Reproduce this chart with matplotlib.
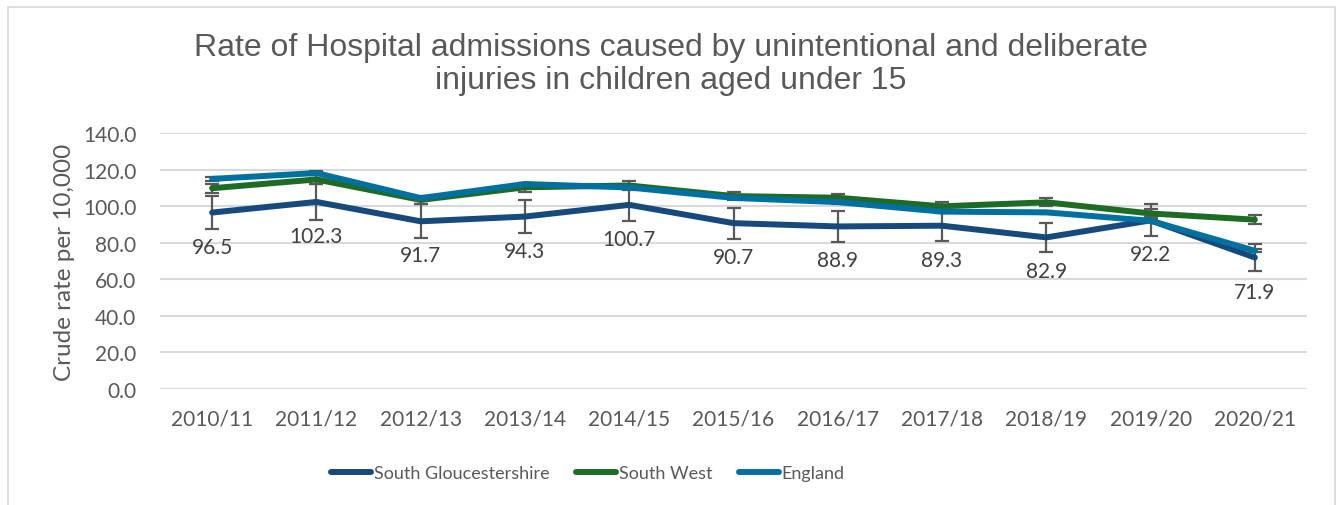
import matplotlib.pyplot as plt
from matplotlib.patches import Rectangle
from matplotlib.lines import Line2D

years = ['2010/11', '2011/12', '2012/13', '2013/14', '2014/15', '2015/16',
         '2016/17', '2017/18', '2018/19', '2019/20', '2020/21']
south_glos = [96.5, 102.3, 91.7, 94.3, 100.7, 90.7, 88.9, 89.3, 82.9, 92.2, 71.9]
south_glos_err = [9.0, 9.8, 9.3, 9.0, 8.8, 8.5, 8.5, 8.3, 8.0, 8.7, 7.3]
south_west = [109.8, 114.6, 103.4, 110.3, 111.3, 105.5, 104.6, 99.9, 102.1, 96.0, 92.6]
south_west_err = [2.4, 2.3, 2.3, 2.3, 2.2, 2.1, 2.1, 2.1, 2.1, 2.2, 2.3]
england = [114.9, 118.1, 104.4, 112.1, 110.2, 104.5, 102.2, 97.0, 96.6, 92.0, 75.6]
england_err = [0.9, 0.9, 0.8, 0.8, 0.8, 0.8, 0.8, 0.8, 0.8, 0.8, 0.8]

c_sg = '#174a7c'
c_sw = '#1e6b24'
c_en = '#0070a0'
txt = '#595959'

plt.rcParams['font.family'] = ['Lato', 'DejaVu Sans']

fig = plt.figure(figsize=(13.37, 5.06), dpi=100)
ax = fig.add_axes([160 / 1337, 1 - 390 / 506, 1147 / 1337, 256 / 506])

x = list(range(len(years)))
lw = 4.3
series = [(south_glos, south_glos_err, c_sg, 'South Gloucestershire'),
          (south_west, south_west_err, c_sw, 'South West'),
          (england, england_err, c_en, 'England')]
for i, (vals, err, col, name) in enumerate(series):
    ax.errorbar(x, vals, yerr=err, color=col, lw=lw, ecolor=txt,
                elinewidth=1.6, capsize=5, capthick=1.6,
                solid_capstyle='round', zorder=3 + i)

for xi, v in zip(x, south_glos):
    ax.annotate(f'{v:.1f}', (xi, v), xytext=(0, -24.5), textcoords='offset points',
                ha='center', va='center', fontsize=15, color='#404040')

ax.set_xlim(-0.5, len(years) - 0.5)
ax.set_ylim(0, 140)
ax.set_yticks(range(0, 141, 20))
ax.set_yticklabels([f'{t:.1f}' for t in range(0, 141, 20)])
ax.set_xticks(x)
ax.set_xticklabels(years)
ax.tick_params(length=0, labelsize=15, labelcolor=txt)
ax.tick_params(axis='x', pad=14)
ax.tick_params(axis='y', pad=17)
ax.grid(axis='y', color='#d9d9d9', lw=1.5)
ax.set_axisbelow(True)
for s in ax.spines.values():
    s.set_visible(False)
ax.set_ylabel('Crude rate per 10,000', fontsize=17.5, color=txt, labelpad=6)

fig.text(671 / 1337, 1 - 64.5 / 506,
         'Rate of Hospital admissions caused by unintentional and deliberate\ninjuries in children aged under 15',
         ha='center', va='center', fontsize=23, color=txt,
         family='Liberation Sans', linespacing=1.1)

handles = [Line2D([], [], color=c, lw=lw, solid_capstyle='round') for _, _, c, _ in series]
labels = [n for _, _, _, n in series]
fig.legend(handles, labels, loc='center', bbox_to_anchor=(588 / 1337, 1 - 474 / 506),
           ncol=3, frameon=False, labelcolor=txt, handlelength=2.2,
           handletextpad=0.15, columnspacing=1.5, fontsize=13)

fig.patches.append(Rectangle((8 / 1337, -0.1), 1327 / 1337, 1.1 - 8 / 506,
                             transform=fig.transFigure, fill=False,
                             edgecolor='#d9d9d9', lw=1.2))

fig.savefig('out.png', dpi=100)
